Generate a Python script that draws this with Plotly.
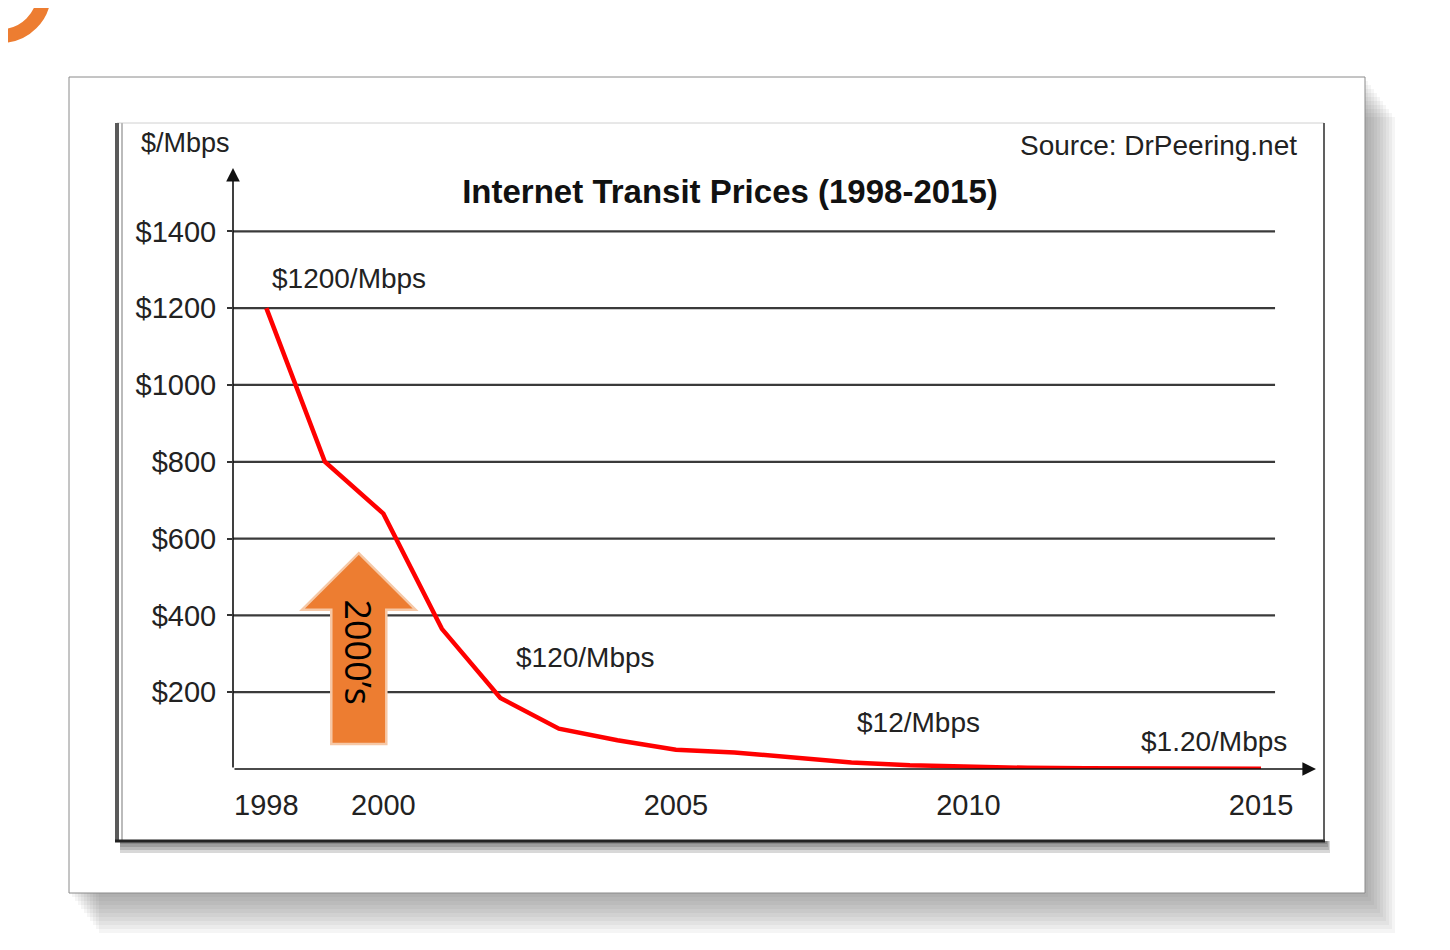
import plotly.graph_objects as go

# ── data ──────────────────────────────────────────────────────────────────────
YEARS = list(range(1998, 2016))
PRICE = [1200, 800, 665, 365, 185, 105, 75, 50, 43, 30, 17, 10, 6, 3, 2, 1.5, 1, 0.6]

Y_TICKS = [200, 400, 600, 800, 1000, 1200, 1400]
Y_TICK_TEXT = ["$200", "$400", "$600", "$800", "$1000", "$1200", "$1400"]
X_TICKS = [1998, 2000, 2005, 2010, 2015]
X_TICK_TEXT = ["1998", "2000", "2005", "2010", "2015"]

CALLOUTS = ["$1200/Mbps", "$120/Mbps", "$12/Mbps", "$1.20/Mbps"]

TITLE = "Internet Transit Prices (1998-2015)"
SOURCE = "Source: DrPeering.net"
Y_UNIT = "$/Mbps"
DECADE = "2000\u2019s"

# ── geometry ──────────────────────────────────────────────────────────────────
W, H = 1450, 950
PL, PR, PT, PB = 225, 142, 160, 189
X_RANGE = [1997.43, 2015.94]
Y_RANGE = [0, 1565]
GRID_END = 2015.24

FONT = "Liberation Sans, Arial, Helvetica, sans-serif"
ORANGE = "#ED7D31"


def px(x):
    return (x - PL) / (W - PL - PR)


def py(y):
    return (H - PB - y) / (H - PT - PB)


fig = go.Figure()

fig.add_trace(go.Scatter(
    x=YEARS, y=PRICE, mode="lines",
    line=dict(color="#ff0000", width=4.5),
    showlegend=False, cliponaxis=False,
))

shapes = []

# card shadow (soft, several translucent layers) + card
for k in range(1, 11):
    shapes.append(dict(type="rect", xref="paper", yref="paper", layer="below",
                       x0=px(61 + 3 * k), x1=px(1357 + 3 * k),
                       y0=py(69 + 4 * k), y1=py(885 + 4 * k),
                       fillcolor="rgba(90,90,90,0.06)", line_width=0))
shapes.append(dict(type="rect", xref="paper", yref="paper", layer="below",
                   x0=px(61), x1=px(1357), y0=py(69), y1=py(885),
                   fillcolor="white", line=dict(color="#8a8a8a", width=1)))

# inner frame with its shadow
for k in range(1, 5):
    shapes.append(dict(type="rect", xref="paper", yref="paper", layer="below",
                       x0=px(112), x1=px(1318 + k),
                       y0=py(833), y1=py(833 + 3 * k),
                       fillcolor="rgba(40,40,40,0.18)", line_width=0))
shapes.append(dict(type="rect", xref="paper", yref="paper", layer="below",
                   x0=px(109), x1=px(1316), y0=py(115), y1=py(833),
                   fillcolor="white", line=dict(color="#d0d0d0", width=1)))
shapes.append(dict(type="line", xref="paper", yref="paper", layer="below",
                   x0=px(109), x1=px(109), y0=py(115), y1=py(833),
                   line=dict(color="#5a5a5a", width=4)))
shapes.append(dict(type="line", xref="paper", yref="paper", layer="below",
                   x0=px(114), x1=px(114), y0=py(115), y1=py(833),
                   line=dict(color="#bbbbbb", width=2)))
shapes.append(dict(type="line", xref="paper", yref="paper", layer="below",
                   x0=px(107), x1=px(1317), y0=py(833), y1=py(833),
                   line=dict(color="#222222", width=3)))
shapes.append(dict(type="line", xref="paper", yref="paper", layer="below",
                   x0=px(1316), x1=px(1316), y0=py(115), y1=py(833),
                   line=dict(color="#333333", width=1.5)))

# horizontal grid lines, stopping short of the x-axis arrow
for v in Y_TICKS:
    shapes.append(dict(type="line", xref="x", yref="y", layer="below",
                       x0=X_RANGE[0], x1=GRID_END, y0=v, y1=v,
                       line=dict(color="#3a3a3a", width=2.2)))

# orange "2000's" block arrow
ax_c, shaft_hw, head_hw = 1999.58, 0.47, 0.97
a_bot, a_neck, a_tip = 65, 415, 562
arrow_path = (f"M{ax_c - shaft_hw},{a_bot} L{ax_c - shaft_hw},{a_neck} "
              f"L{ax_c - head_hw},{a_neck} L{ax_c},{a_tip} "
              f"L{ax_c + head_hw},{a_neck} L{ax_c + shaft_hw},{a_neck} "
              f"L{ax_c + shaft_hw},{a_bot} Z")
shapes.append(dict(type="path", xref="x", yref="y", layer="above",
                   path=arrow_path, fillcolor=ORANGE,
                   line=dict(color="#F6C8A6", width=2.5)))

# orange ring fragment in the top-left corner
shapes.append(dict(type="circle", xref="paper", yref="paper", layer="above",
                   x0=px(-7 - 43), x1=px(-7 + 43), y0=py(-15 + 43), y1=py(-15 - 43),
                   line=dict(color=ORANGE, width=14)))

annotations = []

# axes drawn as arrows
annotations.append(dict(x=X_RANGE[1], y=0, ax=X_RANGE[0], ay=0,
                        xref="x", yref="y", axref="x", ayref="y", text="",
                        showarrow=True, arrowhead=2, arrowsize=1.7,
                        arrowwidth=1.6, arrowcolor="#111"))
annotations.append(dict(x=X_RANGE[0], y=Y_RANGE[1], ax=X_RANGE[0], ay=0,
                        xref="x", yref="y", axref="x", ayref="y", text="",
                        showarrow=True, arrowhead=2, arrowsize=1.7,
                        arrowwidth=1.6, arrowcolor="#111"))

# price call-outs
placements = [(1998.06, 1278, "left"), (2003.46, 291, "center"),
              (2009.15, 121, "center"), (2014.19, 72, "center")]
for txt, (x, y, anchor) in zip(CALLOUTS, placements):
    annotations.append(dict(x=x, y=y, xref="x", yref="y", text=txt,
                            showarrow=False, xanchor=anchor, yanchor="middle",
                            font=dict(family=FONT, size=28, color="#222")))

annotations.append(dict(x=1999.57, y=303, xref="x", yref="y", text=DECADE,
                        showarrow=False, textangle=90,
                        font=dict(family="Open Sans, sans-serif", size=36,
                                  color="#000")))

annotations.append(dict(x=px(1291), y=py(137), xref="paper", yref="paper",
                        text=SOURCE, showarrow=False, xanchor="right",
                        yanchor="middle",
                        font=dict(family=FONT, size=28, color="#222")))
annotations.append(dict(x=px(177), y=py(135), xref="paper", yref="paper",
                        text=Y_UNIT, showarrow=False, xanchor="center",
                        yanchor="middle",
                        font=dict(family=FONT, size=27, color="#222")))

fig.update_layout(
    width=W, height=H,
    margin=dict(l=PL, r=PR, t=PT, b=PB),
    paper_bgcolor="white",
    plot_bgcolor="rgba(0,0,0,0)",
    showlegend=False,
    title=dict(text=f"<b>{TITLE}</b>", x=722 / W, y=1 - 183 / H,
               xanchor="center", yanchor="middle",
               font=dict(family=FONT, size=33, color="#111")),
    shapes=shapes,
    annotations=annotations,
)

fig.update_xaxes(range=X_RANGE, showgrid=False, zeroline=False, showline=False,
                 tickvals=X_TICKS, ticktext=X_TICK_TEXT, ticks="",
                 ticklabelstandoff=16,
                 tickfont=dict(family=FONT, size=29, color="#222"))
fig.update_yaxes(range=Y_RANGE, showgrid=False, zeroline=False, showline=False,
                 tickvals=Y_TICKS, ticktext=Y_TICK_TEXT, ticks="outside",
                 ticklen=5, tickwidth=2, tickcolor="#333",
                 ticklabelstandoff=5,
                 tickfont=dict(family=FONT, size=29, color="#222"))

fig.write_html("out.html")
